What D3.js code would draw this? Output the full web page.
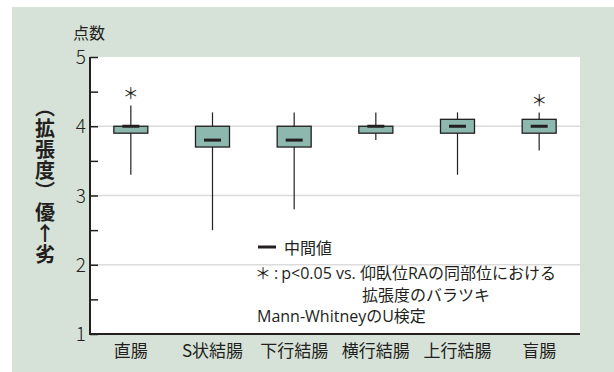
<!DOCTYPE html>
<html><head><meta charset="utf-8">
<script src="https://cdn.jsdelivr.net/npm/d3@7"></script>
<style>
html,body{margin:0;padding:0;background:#fff;}
text{font-family:"Noto Sans CJK JP","Noto Sans",sans-serif;fill:#231f20;font-weight:300;}
text.lg{font-family:"Open Sans","Noto Sans CJK JP",sans-serif;font-weight:normal;}
text.lg tspan.cjk{font-family:"Noto Sans CJK JP",sans-serif;}
</style></head>
<body>
<svg id="c" width="614" height="372"></svg>
<script>
const categories = ["直腸","S状結腸","下行結腸","横行結腸","上行結腸","盲腸"];
const whiskerHigh = [4.3, 4.2, 4.2, 4.2, 4.2, 4.2];
const boxHigh     = [4.0, 4.0, 4.0, 4.0, 4.1, 4.1];
const medians     = [4.0, 3.8, 3.8, 4.0, 4.0, 4.0];
const boxLow      = [3.9, 3.7, 3.7, 3.9, 3.9, 3.9];
const whiskerLow  = [3.3, 2.5, 2.8, 3.8, 3.3, 3.65];
const significant = [true, false, false, false, false, true];
const majorTicks = [1,2,3,4,5];
const minorTicks = [1.5,2.5,3.5,4.5];
const gridValues = [2,3,4];
const yTitle = "（拡張度）優↑劣";
const legendMedian = "中間値";
const legendSigMark = "＊";
const legendSigColon = ":";
const legendSigText = "p<0.05 vs. 仰臥位RAの同部位における";
const legendSigText2 = "拡張度のバラツキ";
const legendTest = "Mann-WhitneyのU検定";

const svg = d3.select("#c");
const L=90, R=580, T=57, B=334;
svg.append("rect").attr("x",12).attr("y",7).attr("width",602).attr("height",365).attr("fill","#d6e2d7");
svg.append("rect").attr("x",L).attr("y",T).attr("width",R-L).attr("height",B-T).attr("fill","#fff");

const y = d3.scaleLinear().domain([1,5]).range([B,T]);
const x = d3.scaleBand().domain(categories).range([L,R]).padding(0);

svg.append("g").selectAll("line").data(gridValues).join("line")
  .attr("x1",L).attr("x2",R).attr("y1",d=>y(d)).attr("y2",d=>y(d))
  .attr("stroke","#dcdcdc").attr("stroke-width",1.5);

const gy = svg.append("g").attr("transform",`translate(${L},0)`).call(d3.axisRight(y).tickValues(majorTicks).tickSize(8).tickFormat(""));
gy.select(".domain").remove();
gy.selectAll("line").attr("stroke","#231f20").attr("stroke-width",1.5);
const gy2 = svg.append("g").attr("transform",`translate(${L},0)`).call(d3.axisRight(y).tickValues(minorTicks).tickSize(8).tickFormat(""));
gy2.select(".domain").remove();
gy2.selectAll("line").attr("stroke","#231f20").attr("stroke-width",1.5);

svg.append("g").selectAll("text").data(majorTicks).join("text")
  .attr("x",86).attr("y",d=>y(d)+7).attr("text-anchor","end")
  .attr("font-size",19).text(d=>d);

svg.append("line").attr("x1",L).attr("x2",L).attr("y1",T).attr("y2",B+1).attr("stroke","#231f20").attr("stroke-width",2);
svg.append("line").attr("x1",L-1).attr("x2",R).attr("y1",B).attr("y2",B).attr("stroke","#231f20").attr("stroke-width",2);

svg.append("g").selectAll("text").data(categories).join("text")
  .attr("x",d=>x(d)+x.bandwidth()/2).attr("y",357).attr("text-anchor","middle")
  .attr("font-size",17).style("font-weight","normal").text(d=>d);

const bw = 34, mw = 17;
const g = svg.append("g");
categories.forEach((c,i)=>{
  const cx = x(c)+x.bandwidth()/2;
  g.append("line").attr("x1",cx).attr("x2",cx).attr("y1",y(whiskerHigh[i])).attr("y2",y(whiskerLow[i]))
    .attr("stroke","#231f20").attr("stroke-width",1.2);
  g.append("rect").attr("x",cx-bw/2).attr("y",y(boxHigh[i])).attr("width",bw).attr("height",y(boxLow[i])-y(boxHigh[i]))
    .attr("fill","#8db8ae").attr("stroke","#231f20").attr("stroke-width",1.3);
  g.append("line").attr("x1",cx-mw/2).attr("x2",cx+mw/2).attr("y1",y(medians[i])).attr("y2",y(medians[i]))
    .attr("stroke","#231f20").attr("stroke-width",3);
  if(significant[i]){
    g.append("text").attr("x",cx).attr("y",y(whiskerHigh[i])-13).attr("text-anchor","middle")
      .attr("dominant-baseline","central").attr("font-size",16).style("font-weight","normal").text("＊");
  }
});

svg.append("text").attr("x",73).attr("y",39).attr("font-size",16).style("font-weight","normal").text("点数");

svg.append("text").attr("x",45).attr("y",97)
  .style("writing-mode","vertical-rl").style("text-orientation","upright")
  .attr("font-size",20).style("font-weight","bold").attr("letter-spacing",1).text(yTitle);

// legend
svg.append("line").attr("x1",258).attr("x2",276).attr("y1",247).attr("y2",247).attr("stroke","#231f20").attr("stroke-width",3);
svg.append("text").attr("x",284).attr("y",254).attr("font-size",16).style("font-weight","normal").text(legendMedian);
const l2 = svg.append("text").attr("class","lg").attr("x",255).attr("y",279).attr("font-size",16);
l2.append("tspan").attr("class","cjk").text(legendSigMark);
l2.append("tspan").attr("dx",3).text(legendSigColon);
l2.append("tspan").attr("dx",3).text(legendSigText);
svg.append("text").attr("x",362).attr("y",301).attr("font-size",16).style("font-weight","normal").text(legendSigText2);
svg.append("text").attr("class","lg").attr("x",257).attr("y",322).attr("font-size",16).text(legendTest);
</script>
</body></html>
